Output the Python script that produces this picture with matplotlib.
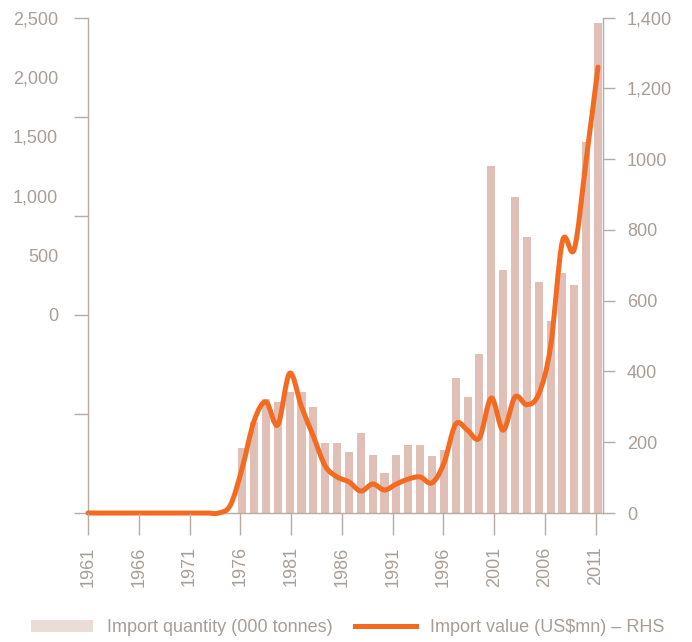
import matplotlib
matplotlib.use("Agg")
import matplotlib.pyplot as plt
from matplotlib.ticker import FixedLocator, FixedFormatter
from matplotlib.path import Path
from matplotlib.patches import PathPatch
from matplotlib.lines import Line2D

plt.rcParams['font.family'] = ['Liberation Sans', 'DejaVu Sans']

# ---- data ----
# line series: 44 consecutive periods (category index 0..43)
value_usd_mn = [0, 0, 0, 0, 0, 0, 0, 0, 0, 0, 0, 0, 22, 127, 260, 314, 249, 395, 300,
                217, 133, 102, 88, 62, 82, 65, 82, 96, 102, 85, 140, 251, 234, 212,
                325, 234, 328, 306, 336, 470, 768, 746, 997, 1260]
# bars: the last 31 periods
qty_000t = [328, 459, 575, 560, 610, 610, 535, 353, 353, 308, 404, 293, 202, 293, 343,
            343, 288, 318, 681, 585, 802, 1751, 1226, 1594, 1392, 1165, 969, 1211,
            1150, 1872, 2472]
year_ticks = list(range(1961, 2012, 5))
year_tick_labels = [str(y) for y in year_ticks]
left_ticks = [0, 500, 1000, 1500, 2000, 2500]
left_label_pos = [1000, 1300, 1600, 1900, 2200, 2500]
left_labels = ['0', '500', '1,000', '1,500', '2,000', '2,500']
right_ticks = [0, 200, 400, 600, 800, 1000, 1200, 1400]
right_labels = ['0', '200', '400', '600', '800', '1000', '1,200', '1,400']

BAR = '#e0bfb6'
LEG_BAR = '#ecdcd8'
LINE = '#f26b21'
AXC = '#b7aca4'
TXT = '#a89e96'
FS = 13

n_line = len(value_usd_mn)
idx_line = list(range(n_line))
idx_bar = idx_line[n_line - len(qty_000t):]

fig = plt.figure(figsize=(6.92, 6.42), dpi=100)
ax = fig.add_axes([0.1272, 0.2009, 0.8707 - 0.1272, 0.9727 - 0.2009])

bars = ax.bar(idx_bar, qty_000t, width=0.68, color=BAR, zorder=1,
              label='Import quantity (000 tonnes)')
ax.set_xlim(0, 43.38)
ax.set_ylim(0, 2500)

ax2 = ax.twinx()
ax2.set_ylim(0, 1400)

# smoothed line (Catmull-Rom Bezier through the data points, like a spreadsheet's smooth line)
xs, ys = idx_line, value_usd_mn
verts = [(xs[0], ys[0])]
codes = [Path.MOVETO]
n = len(xs)
for i in range(n - 1):
    p0 = (xs[max(i - 1, 0)], ys[max(i - 1, 0)])
    p1 = (xs[i], ys[i])
    p2 = (xs[i + 1], ys[i + 1])
    p3 = (xs[min(i + 2, n - 1)], ys[min(i + 2, n - 1)])
    c1 = (p1[0] + (p2[0] - p0[0]) / 6, p1[1] + (p2[1] - p0[1]) / 6)
    c2 = (p2[0] - (p3[0] - p1[0]) / 6, p2[1] - (p3[1] - p1[1]) / 6)
    verts += [c1, c2, p2]
    codes += [Path.CURVE4] * 3
curve = PathPatch(Path(verts, codes), fill=False, edgecolor=LINE, lw=3.6,
                  capstyle='round', joinstyle='round', transform=ax2.transData,
                  clip_on=False, zorder=5)
ax2.add_patch(curve)
line_handle = Line2D([], [], color=LINE, lw=3.6, label='Import value (US$mn) – RHS')

# spines
for a in (ax, ax2):
    a.spines['top'].set_visible(False)
    for s in ('left', 'right', 'bottom'):
        a.spines[s].set_color(AXC)
        a.spines[s].set_linewidth(1.0)
ax.spines['right'].set_visible(False)
ax2.spines['left'].set_visible(False)
ax2.spines['bottom'].set_visible(False)

# left axis: tick marks without labels; labels on separate (minor) positions
ax.yaxis.remove_overlapping_locs = False
ax.yaxis.set_major_locator(FixedLocator(left_ticks))
ax.yaxis.set_major_formatter(FixedFormatter([''] * len(left_ticks)))
ax.tick_params(axis='y', which='major', direction='out', length=10, width=1.0, color=AXC)
ax.yaxis.set_minor_locator(FixedLocator(left_label_pos))
ax.yaxis.set_minor_formatter(FixedFormatter(left_labels))
ax.tick_params(axis='y', which='minor', length=0, pad=21.5, labelsize=FS, labelcolor=TXT)
ax.set_xticks([])

# right axis
ax2.set_yticks(right_ticks)
ax2.set_yticklabels(right_labels)
ax2.tick_params(axis='y', direction='out', length=8.6, width=1.0, color=AXC,
                pad=9, labelsize=FS, labelcolor=TXT)

# year tick axis
ax3 = ax.twiny()
ax3.set_xlim(1961, 2011.67)
ax3.xaxis.set_ticks_position('bottom')
ax3.xaxis.set_label_position('bottom')
ax3.set_xticks(year_ticks)
ax3.set_xticklabels(year_tick_labels, rotation=90)
ax3.tick_params(axis='x', direction='out', length=16, width=1.0, color=AXC,
                pad=8, labelsize=FS, labelcolor=TXT)
for s in ax3.spines.values():
    s.set_visible(False)

leg = fig.legend(handles=[bars, line_handle], loc='center', bbox_to_anchor=(0.503, 0.022),
                 ncol=2, frameon=False, fontsize=FS, labelcolor=TXT,
                 handlelength=3.4, handletextpad=0.8, columnspacing=1.2)
leg.legend_handles[0].set_facecolor(LEG_BAR)

fig.savefig('out.png', dpi=100)
